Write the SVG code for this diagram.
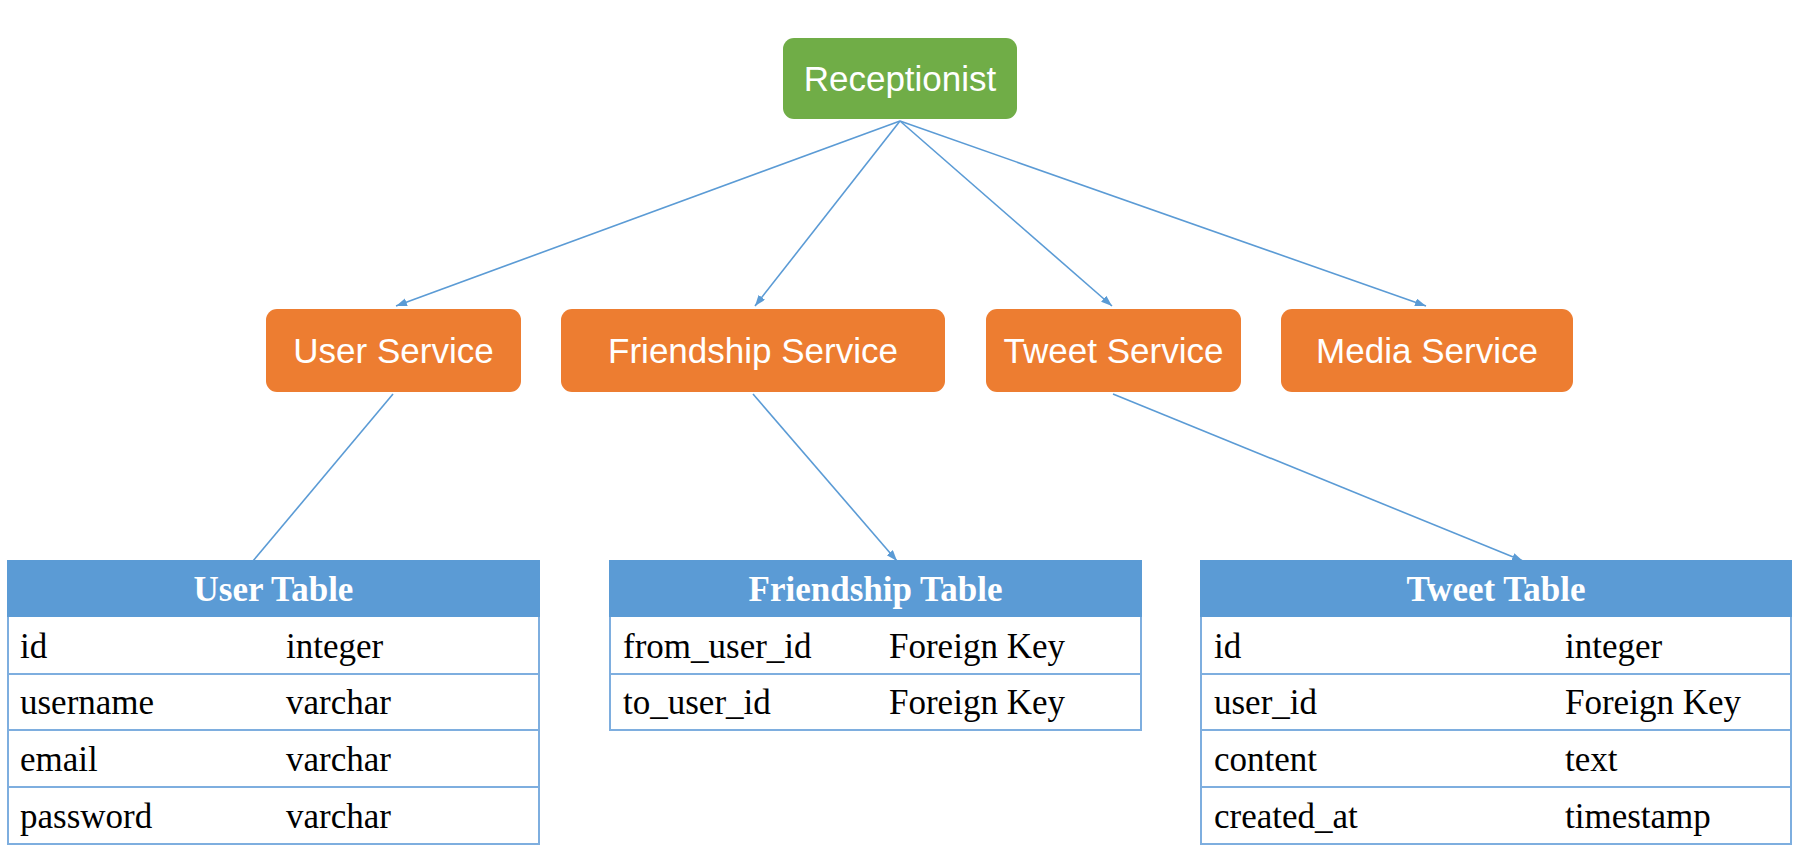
<svg xmlns="http://www.w3.org/2000/svg" width="1806" height="854" viewBox="0 0 1806 854">
<style>
.svc{fill:#ED7D31;}
.rec{fill:#70AD47;}
.lbl{font-family:"Liberation Sans",Arial,sans-serif;font-size:35px;fill:#fff;text-anchor:middle;}
.hdr{fill:#5B9BD5;}
.htx{font-family:"Liberation Serif","Times New Roman",serif;font-size:35px;font-weight:bold;fill:#fff;text-anchor:middle;}
.tx{font-family:"Liberation Serif","Times New Roman",serif;font-size:35px;fill:#000;}
.bd{fill:#fff;stroke:#7EAEDF;stroke-width:2;}
.sep{stroke:#7EAEDF;stroke-width:2;}
.con{stroke:#5B9BD5;stroke-width:1.6;fill:none;}
</style>
<defs>
<marker id="ah" markerUnits="userSpaceOnUse" markerWidth="12" markerHeight="10" refX="11" refY="4" orient="auto">
<path d="M0,0 L11,4 L0,8 z" fill="#5B9BD5"/>
</marker>
</defs>
<rect width="1806" height="854" fill="#fff"/>
<g id="connectors">
<line class="con" x1="900" y1="121" x2="396" y2="306" marker-end="url(#ah)"/>
<line class="con" x1="900" y1="121" x2="755" y2="306" marker-end="url(#ah)"/>
<line class="con" x1="900" y1="121" x2="1112" y2="306" marker-end="url(#ah)"/>
<line class="con" x1="900" y1="121" x2="1426" y2="306" marker-end="url(#ah)"/>
<line class="con" x1="393" y1="394" x2="253" y2="561"/>
<line class="con" x1="753" y1="394" x2="897" y2="561" marker-end="url(#ah)"/>
<line class="con" x1="1113" y1="394" x2="1523" y2="561" marker-end="url(#ah)"/>
</g>
<g id="receptionist">
<rect class="rec" x="783" y="38" width="234" height="81" rx="11"/>
<text class="lbl" x="900" y="91">Receptionist</text>
</g>
<g id="user-service">
<rect class="svc" x="266" y="309" width="255" height="83" rx="11"/>
<text class="lbl" x="393.5" y="363">User Service</text>
</g>
<g id="friendship-service">
<rect class="svc" x="561" y="309" width="384" height="83" rx="11"/>
<text class="lbl" x="753" y="363">Friendship Service</text>
</g>
<g id="tweet-service">
<rect class="svc" x="986" y="309" width="255" height="83" rx="11"/>
<text class="lbl" x="1113.5" y="363">Tweet Service</text>
</g>
<g id="media-service">
<rect class="svc" x="1281" y="309" width="292" height="83" rx="11"/>
<text class="lbl" x="1427" y="363">Media Service</text>
</g>
<g id="user-table">
<rect class="bd" x="8" y="561" width="531" height="283"/>
<rect class="hdr" x="7" y="560" width="533" height="57"/>
<text class="htx" x="273.5" y="601">User Table</text>
<line class="sep" x1="8" y1="674" x2="539" y2="674"/>
<line class="sep" x1="8" y1="730" x2="539" y2="730"/>
<line class="sep" x1="8" y1="787" x2="539" y2="787"/>
<text class="tx" x="20" y="657.5">id</text><text class="tx" x="286" y="657.5">integer</text>
<text class="tx" x="20" y="714">username</text><text class="tx" x="286" y="714">varchar</text>
<text class="tx" x="20" y="770.5">email</text><text class="tx" x="286" y="770.5">varchar</text>
<text class="tx" x="20" y="827.5">password</text><text class="tx" x="286" y="827.5">varchar</text>
</g>
<g id="friendship-table">
<rect class="bd" x="610" y="561" width="531" height="169"/>
<rect class="hdr" x="609" y="560" width="533" height="57"/>
<text class="htx" x="875.5" y="601">Friendship Table</text>
<line class="sep" x1="610" y1="674" x2="1141" y2="674"/>
<text class="tx" x="623" y="657.5">from_user_id</text><text class="tx" x="889" y="657.5">Foreign Key</text>
<text class="tx" x="623" y="714">to_user_id</text><text class="tx" x="889" y="714">Foreign Key</text>
</g>
<g id="tweet-table">
<rect class="bd" x="1201" y="561" width="590" height="283"/>
<rect class="hdr" x="1200" y="560" width="592" height="57"/>
<text class="htx" x="1496" y="601">Tweet Table</text>
<line class="sep" x1="1201" y1="674" x2="1791" y2="674"/>
<line class="sep" x1="1201" y1="730" x2="1791" y2="730"/>
<line class="sep" x1="1201" y1="787" x2="1791" y2="787"/>
<text class="tx" x="1214" y="657.5">id</text><text class="tx" x="1565" y="657.5">integer</text>
<text class="tx" x="1214" y="714">user_id</text><text class="tx" x="1565" y="714">Foreign Key</text>
<text class="tx" x="1214" y="770.5">content</text><text class="tx" x="1565" y="770.5">text</text>
<text class="tx" x="1214" y="827.5">created_at</text><text class="tx" x="1565" y="827.5">timestamp</text>
</g>
</svg>
